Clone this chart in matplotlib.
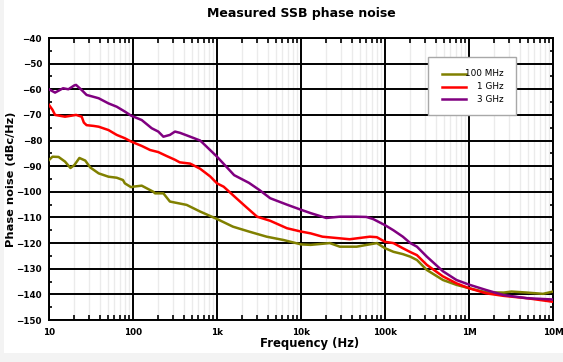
import matplotlib
matplotlib.use("Agg")
import matplotlib.pyplot as plt
from matplotlib.ticker import FixedLocator, NullFormatter, MultipleLocator
from matplotlib.patches import Rectangle
from matplotlib.lines import Line2D

# ---- data ----
series_names = ["100 MHz", "1 GHz", "3 GHz"]
series_colors = ["#808000", "#ff0000", "#800080"]

f_100m = [10, 11, 13, 15.5, 18, 20, 23, 27, 31, 39, 51, 64, 76, 80, 95, 100, 127,
          175, 183, 230, 275, 435, 630, 1000, 1550, 2400, 3900, 6200, 10000, 13000,
          22000, 29000, 46000, 80000, 100000, 126000, 163000, 200000, 240000, 315000,
          490000, 710000, 1e6, 1.6e6, 2.6e6, 3.2e6, 4.9e6, 7.6e6, 1e7]
pn_100m = [-87.6, -86.3, -86.4, -88.2, -90.7, -89.6, -86.8, -87.8, -90.5, -92.8, -94.1,
           -94.5, -95.4, -96.7, -98.2, -98.0, -97.6, -100.0, -100.6, -100.6, -103.8,
           -105.1, -107.7, -110.6, -113.6, -115.5, -117.5, -118.8, -120.5, -120.7,
           -120.0, -121.4, -121.4, -120.0, -122.0, -123.4, -124.3, -125.3, -126.6,
           -130.5, -134.4, -136.3, -137.6, -139.2, -139.3, -138.9, -139.3, -139.8, -138.9]

f_1g = [10, 11, 11.8, 15.5, 18.5, 21, 24.5, 26, 28, 34, 39, 51, 64, 80, 95, 127, 160,
        200, 250, 316, 360, 480, 630, 830, 1000, 1200, 1700, 2200, 3000, 4300, 6800,
        10000, 13000, 18000, 38000, 66000, 80000, 100000, 126000, 163000, 200000,
        240000, 315000, 490000, 710000, 1e6, 1.6e6, 2.6e6, 4.9e6, 1e7]
pn_1g = [-66.1, -68.0, -70.0, -70.7, -70.3, -70.0, -70.7, -73.0, -74.0, -74.3, -74.6,
         -75.9, -77.8, -79.1, -80.4, -82.1, -83.7, -84.5, -86.0, -87.5, -88.5, -89.0,
         -91.0, -94.0, -96.7, -98.0, -102.5, -105.8, -109.7, -111.3, -114.2, -115.5,
         -116.2, -117.5, -118.5, -117.5, -117.7, -119.5, -120.0, -122.0, -123.5,
         -124.7, -128.5, -133.0, -135.7, -137.6, -139.6, -140.6, -141.5, -142.9]

f_3g = [10, 11.8, 14.7, 17, 20, 21, 24.5, 28, 39, 51, 64, 80, 95, 127, 167, 200, 230,
        275, 316, 363, 480, 630, 680, 1000, 1600, 2400, 3200, 4300, 6800, 10000, 13000,
        20000, 29000, 45000, 60000, 72000, 100000, 126000, 163000, 200000, 240000,
        315000, 490000, 710000, 1e6, 1.6e6, 2.6e6, 4.9e6, 1e7]
pn_3g = [-60.0, -61.3, -59.6, -60.0, -58.5, -58.3, -60.3, -62.2, -63.5, -65.5, -66.8,
         -68.7, -70.3, -72.0, -75.2, -76.5, -78.5, -77.8, -76.5, -77.0, -78.5, -80.0,
         -81.0, -86.3, -93.5, -96.5, -99.3, -102.5, -105.0, -107.0, -108.3, -110.2,
         -109.7, -109.7, -109.8, -110.6, -113.0, -115.0, -117.5, -120.0, -121.4,
         -125.3, -131.0, -134.4, -136.2, -138.3, -140.3, -141.5, -142.0]

x_major = [10, 100, 1e3, 1e4, 1e5, 1e6, 1e7]
x_major_labels = ["10", "100", "1k", "10k", "100k", "1M", "10M"]
y_min, y_max = -150, -40

# ---- figure ----
W, H = 563, 362
fig = plt.figure(figsize=(W / 100, H / 100), dpi=100)
fig.patch.set_facecolor("#f3f3f3")
bg = Rectangle((4 / W, 1 - 353 / H), 1, 353 / H, transform=fig.transFigure,
               facecolor="white", edgecolor="none", zorder=-10)
fig.add_artist(bg)

ax = fig.add_axes([49 / W, 1 - 320 / H, 504 / W, 282 / H])
ax.set_facecolor("none")
ax.set_xscale("log")
ax.set_xlim(10, 1e7)
ax.set_ylim(y_min, y_max)

minor = [m * 10 ** e for e in range(1, 7) for m in range(2, 10)]
ax.xaxis.set_major_locator(FixedLocator(x_major))
ax.xaxis.set_minor_locator(FixedLocator(minor))
ax.xaxis.set_minor_formatter(NullFormatter())
ax.set_xticklabels(x_major_labels)
ax.yaxis.set_major_locator(MultipleLocator(10))
ax.yaxis.set_minor_locator(MultipleLocator(5))

ax.grid(which="minor", axis="x", color="#ebebeb", lw=1.0, zorder=0)
ax.grid(which="major", axis="both", color="black", lw=1.4, zorder=1)

for s in ax.spines.values():
    s.set_linewidth(1.4)
    s.set_color("black")

ax.tick_params(which="both", direction="in", top=True, right=True, width=1.2)
ax.tick_params(which="major", length=0)
ax.tick_params(axis="y", which="major", pad=5)
ax.tick_params(axis="x", which="major", pad=6)
ax.tick_params(axis="x", which="minor", length=3.5)
ax.tick_params(axis="y", which="minor", length=2.5)

for lab in ax.get_xticklabels() + ax.get_yticklabels():
    lab.set_fontweight("bold")
    lab.set_fontsize(6.3)

for f, p, c in zip([f_100m, f_1g, f_3g], [pn_100m, pn_1g, pn_3g], series_colors):
    ax.plot(f, p, color=c, lw=1.8, zorder=3, solid_joinstyle="round")

ax.set_title("Measured SSB phase noise", fontsize=9.0, fontweight="bold", pad=15)
ax.set_xlabel("Frequency (Hz)", fontsize=8.4, fontweight="bold")
ax.set_ylabel("Phase noise (dBc/Hz)", fontsize=8.2, fontweight="bold")
ax.xaxis.set_label_coords((310 - 49) / 504, (320 - 343) / 282)
ax.yaxis.set_label_coords((11 - 49) / 504, 0.5)
ax.xaxis.label.set_va("center")
ax.yaxis.label.set_va("center")

# ---- legend (custom, right-aligned labels) ----
def px(x, y):
    return ((x - 49) / 504, (320 - y) / 282)

x0, y0 = px(428, 115)
x1, y1 = px(516, 57)
ax.add_patch(Rectangle((x0, y0), x1 - x0, y1 - y0, transform=ax.transAxes,
                       facecolor="white", edgecolor="#a8a8a8", lw=1.0, zorder=5))
rows_y = [74, 86.7, 99.3]
for name, c, ry in zip(series_names, series_colors, rows_y):
    a = px(441.5, ry)
    b = px(465.5, ry)
    ax.add_line(Line2D([a[0], b[0]], [a[1], b[1]], transform=ax.transAxes, color=c,
                       lw=1.8, zorder=6))
    t = px(504, ry)
    ax.text(t[0], t[1], name, transform=ax.transAxes, ha="right", va="center",
            fontsize=6.4, zorder=6)

fig.savefig("out.png", dpi=100, facecolor=fig.get_facecolor())
